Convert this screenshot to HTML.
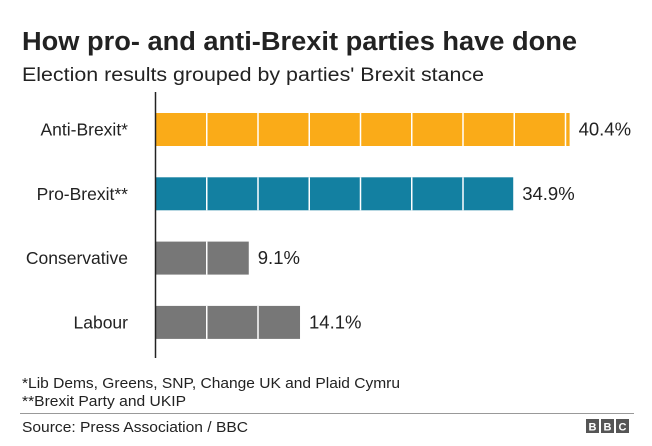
<!DOCTYPE html>
<html><head><meta charset="utf-8"><style>
html,body{margin:0;padding:0;background:#fff;}
svg{display:block;font-family:"Liberation Sans",Arial,sans-serif;}
</style></head><body>
<svg id="chart" width="652" height="446" viewBox="0 0 652 446">
<text x="22" y="50" font-size="25.5" font-weight="bold" fill="#222" textLength="555" lengthAdjust="spacingAndGlyphs">How pro- and anti-Brexit parties have done</text>
<text x="22" y="81" font-size="19" fill="#222" textLength="462" lengthAdjust="spacingAndGlyphs">Election results grouped by parties' Brexit stance</text>
<g id="bars"></g>
<line x1="155.5" y1="92" x2="155.5" y2="358" stroke="#222" stroke-width="1.5"/>
<text x="22" y="388" font-size="14.5" fill="#222" textLength="378" lengthAdjust="spacingAndGlyphs">*Lib Dems, Greens, SNP, Change UK and Plaid Cymru</text>
<text x="22" y="406" font-size="14.5" fill="#222" textLength="164" lengthAdjust="spacingAndGlyphs">**Brexit Party and UKIP</text>
<line x1="20" y1="413.5" x2="634" y2="413.5" stroke="#999" stroke-width="1"/>
<text x="22" y="432" font-size="15" fill="#222" textLength="226" lengthAdjust="spacingAndGlyphs">Source: Press Association / BBC</text>
<g>
<rect x="586" y="419" width="13" height="14" fill="#555"/><text x="592.5" y="430.5" font-size="11" font-weight="bold" fill="#fff" text-anchor="middle">B</text>
<rect x="601" y="419" width="13" height="14" fill="#555"/><text x="607.5" y="430.5" font-size="11" font-weight="bold" fill="#fff" text-anchor="middle">B</text>
<rect x="616" y="419" width="13" height="14" fill="#555"/><text x="622.5" y="430.5" font-size="11" font-weight="bold" fill="#fff" text-anchor="middle">C</text>
</g>
</svg>
<script>
const categories = ["Anti-Brexit*", "Pro-Brexit**", "Conservative", "Labour"];
const values = [40.4, 34.9, 9.1, 14.1];
const valueLabels = ["40.4%", "34.9%", "9.1%", "14.1%"];
const colors = ["#faab18", "#1380a1", "#777777", "#777777"];
const segmentStep = 5;

const x0 = 155.5, pxPerUnit = 10.25;
function xScale(v){ return x0 + v * pxPerUnit; }
function yBand(i){ return 113 + i * 64.3; }
const barH = 33;
const ns = "http://www.w3.org/2000/svg";
const g = document.getElementById("bars");
categories.forEach((c, i) => {
  const y = yBand(i);
  const r = document.createElementNS(ns, "rect");
  r.setAttribute("x", x0); r.setAttribute("y", y);
  r.setAttribute("width", xScale(values[i]) - x0); r.setAttribute("height", barH);
  r.setAttribute("fill", colors[i]);
  
  
  g.appendChild(r);
  for (let s = segmentStep; s < values[i]; s += segmentStep) {
    const l = document.createElementNS(ns, "line");
    l.setAttribute("x1", xScale(s)); l.setAttribute("x2", xScale(s));
    l.setAttribute("y1", y); l.setAttribute("y2", y + barH);
    l.setAttribute("stroke", "#fff"); l.setAttribute("stroke-width", "1.5");
    
    
    g.appendChild(l);
  }
  const t = document.createElementNS(ns, "text");
  t.setAttribute("x", 128); t.setAttribute("y", y + barH/2 + 6);
  t.setAttribute("text-anchor", "end"); t.setAttribute("font-size", "17.5"); t.setAttribute("fill", "#222");
  t.textContent = c;
  
  
  g.appendChild(t);
  const v = document.createElementNS(ns, "text");
  v.setAttribute("x", xScale(values[i]) + 9); v.setAttribute("y", y + barH/2 + 6);
  v.setAttribute("font-size", "18.5"); v.setAttribute("fill", "#222");
  v.textContent = valueLabels[i];
  
  
  g.appendChild(v);
});
</script>
</body></html>
